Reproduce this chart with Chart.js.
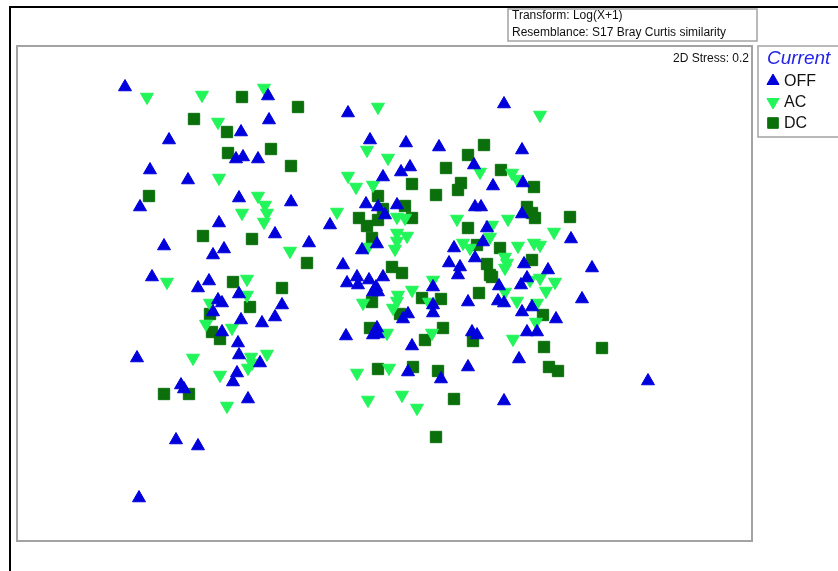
<!DOCTYPE html>
<html>
<head>
<meta charset="utf-8">
<script src="https://cdn.jsdelivr.net/npm/chart.js@4/dist/chart.umd.min.js"></script>
<style>
  html, body { margin: 0; padding: 0; background: #fff; }
  canvas { display: block; }
</style>
</head>
<body>
<canvas id="mds" width="838" height="571"></canvas>
<script>
// nMDS ordination coordinates (arbitrary units), one list per current treatment
const offPoints = [
  [125,87],[268,96],[269,120],[241,132],[169,140],[236,159],[243,157],[258,159],[150,170],[188,180],
  [140,207],[239,198],[291,202],[219,223],[348,113],[370,140],[406,143],[439,147],[474,165],[410,167],
  [401,172],[383,177],[366,204],[378,207],[397,205],[475,207],[481,207],[385,215],[330,225],[504,104],
  [522,150],[523,183],[493,186],[522,214],[275,234],[164,246],[213,255],[224,249],[152,277],[209,281],
  [198,288],[239,294],[218,300],[222,303],[282,305],[213,312],[275,317],[241,320],[262,323],[222,332],
  [238,343],[137,358],[239,355],[260,363],[237,373],[233,382],[181,385],[184,389],[248,399],[176,440],
  [198,446],[139,498],[309,243],[377,244],[362,250],[343,265],[454,248],[449,263],[460,267],[458,275],
  [475,258],[357,277],[347,283],[358,285],[369,280],[383,277],[376,287],[373,292],[378,292],[433,287],
  [433,305],[433,313],[468,302],[408,314],[403,319],[472,332],[377,328],[373,335],[378,334],[346,336],
  [412,346],[408,372],[441,379],[468,367],[487,228],[571,239],[483,242],[524,264],[548,270],[592,268],
  [527,278],[499,286],[521,285],[498,301],[504,303],[582,299],[532,307],[522,312],[556,319],[527,332],
  [537,332],[519,359],[648,381],[504,401],[477,335]
];
const acPoints = [
  [147,97],[202,95],[264,88],[218,122],[219,178],[258,196],[265,205],[267,213],[264,222],[242,213],
  [378,107],[367,150],[388,158],[480,172],[348,176],[356,187],[373,185],[337,212],[397,217],[405,218],
  [457,219],[540,115],[512,173],[517,179],[508,219],[290,251],[167,282],[247,279],[247,295],[210,303],
  [206,324],[232,328],[193,358],[251,357],[252,363],[267,354],[220,375],[248,368],[227,406],[397,233],
  [407,236],[397,241],[395,249],[368,247],[463,243],[470,248],[433,280],[412,290],[398,295],[397,301],
  [393,308],[363,303],[429,302],[387,333],[432,333],[357,373],[389,368],[368,400],[402,395],[417,408],
  [492,225],[554,232],[490,237],[518,246],[534,243],[540,245],[505,257],[507,263],[505,268],[530,280],
  [540,278],[555,282],[546,291],[505,292],[517,301],[537,303],[536,322],[513,339]
];
const dcPoints = [
  [242,97],[298,107],[194,119],[227,132],[228,153],[271,149],[291,166],[149,196],[468,155],[446,168],
  [412,184],[461,183],[458,190],[436,195],[378,196],[405,206],[383,209],[359,218],[412,218],[484,145],
  [501,170],[534,187],[527,207],[532,213],[535,218],[570,217],[203,236],[252,239],[233,282],[282,288],
  [250,307],[210,314],[212,332],[220,339],[164,394],[189,394],[367,226],[378,220],[468,228],[307,263],
  [372,238],[392,267],[402,273],[477,245],[422,298],[441,299],[372,302],[479,293],[400,314],[473,341],
  [370,328],[443,328],[425,340],[378,369],[413,367],[438,371],[454,399],[436,437],[500,248],[487,264],
  [490,275],[492,277],[532,260],[543,315],[544,347],[602,348],[549,367],[558,371]
];

const seriesNames = ['OFF', 'AC', 'DC'];
const seriesColors = ['#0000dc', '#22f55a', '#0b700b'];
const legendTitle = 'Current';
const headerLines = ['Transform: Log(X+1)', 'Resemblance: S17 Bray Curtis similarity'];
const stressLabel = '2D Stress: 0.2';

const toXY = (pts) => pts.map(([x, y]) => ({ x, y }));

const markerStyles = [
  { pointStyle: 'triangle', rotation: 0, radius: 7.5 },
  { pointStyle: 'triangle', rotation: 180, radius: 7.5 },
  { pointStyle: 'rect', rotation: 0, radius: 8 },
];

const FONT = '"Liberation Sans", Arial, sans-serif';

// frame, header box, stress text and the legend around the plot
const decorations = {
  id: 'decorations',
  beforeDraw(chart) {
    const ctx = chart.ctx;
    ctx.save();
    ctx.fillStyle = '#fff';
    ctx.fillRect(0, 0, chart.width, chart.height);
    ctx.restore();
  },
  afterDraw(chart) {
    const ctx = chart.ctx;
    const a = chart.chartArea;
    ctx.save();

    // plot border
    ctx.strokeStyle = '#a3a3a3';
    ctx.lineWidth = 2;
    ctx.strokeRect(a.left, a.top, a.right - a.left, a.bottom - a.top);

    // outer black frame
    ctx.strokeStyle = '#000';
    ctx.lineWidth = 2;
    ctx.beginPath();
    ctx.moveTo(10, chart.height);
    ctx.lineTo(10, 7);
    ctx.lineTo(chart.width, 7);
    ctx.stroke();

    // header box
    ctx.strokeStyle = '#a3a3a3';
    ctx.lineWidth = 1.5;
    ctx.strokeRect(508, 9, 249, 32);
    ctx.fillStyle = '#111';
    ctx.font = '12px ' + FONT;
    ctx.textBaseline = 'middle';
    ctx.textAlign = 'left';
    ctx.fillText(headerLines[0], 512, 16);
    ctx.fillText(headerLines[1], 512, 33);

    // stress
    ctx.textAlign = 'right';
    ctx.fillText(stressLabel, a.right - 3, 59);

    // legend
    ctx.strokeStyle = '#a3a3a3';
    ctx.lineWidth = 1.5;
    ctx.strokeRect(758, a.top, 90, 91);
    ctx.textAlign = 'left';
    ctx.fillStyle = '#2424e6';
    ctx.font = 'italic 19px ' + FONT;
    ctx.fillText(legendTitle, 767, 59);
    ctx.font = '16px ' + FONT;
    seriesNames.forEach((name, i) => {
      const y = 81 + i * 21;
      const st = markerStyles[i];
      ctx.fillStyle = seriesColors[i];
      ctx.strokeStyle = seriesColors[i];
      ctx.lineWidth = 1;
      Chart.helpers.drawPoint(ctx, { pointStyle: st.pointStyle, rotation: st.rotation, radius: st.radius - 0.5, borderWidth: 1 }, 773, y);
      ctx.fillStyle = '#111';
      ctx.fillText(name, 784, y + 1);
    });
    ctx.restore();
  }
};

const allPoints = [offPoints, acPoints, dcPoints];

new Chart(document.getElementById('mds').getContext('2d'), {
  type: 'scatter',
  data: {
    datasets: allPoints.map((pts, i) => ({
      label: seriesNames[i],
      data: toXY(pts),
      backgroundColor: seriesColors[i],
      borderColor: seriesColors[i],
      borderWidth: 1,
      pointStyle: markerStyles[i].pointStyle,
      rotation: markerStyles[i].rotation,
      pointRadius: markerStyles[i].radius,
      pointHoverRadius: markerStyles[i].radius,
    })),
  },
  options: {
    responsive: false,
    animation: false,
    layout: { padding: { left: 17, top: 46, right: 86, bottom: 30 } },
    scales: {
      x: { display: false, min: 17, max: 752 },
      y: { display: false, min: 46, max: 541, reverse: true },
    },
    plugins: {
      legend: { display: false },
      tooltip: { enabled: false },
    },
  },
  plugins: [decorations],
});
</script>
</body>
</html>
